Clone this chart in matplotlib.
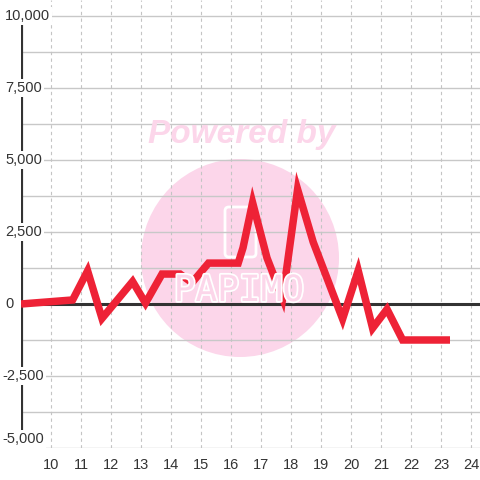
import matplotlib
matplotlib.use('Agg')
import matplotlib.pyplot as plt
import matplotlib.transforms as mtransforms
import matplotlib.patheffects as pe
from matplotlib.patches import Circle, FancyBboxPatch

# series
hours = [9.0, 10.72, 11.22, 11.7, 12.72, 13.15, 13.7, 14.3, 14.7, 15.25, 16.24, 16.4,
         16.72, 17.2, 17.72, 18.22, 18.74, 19.72, 20.24, 20.72, 21.2, 21.72, 23.3]
values = [0, 140, 1150, -500, 780, 30, 1040, 1040, 740, 1420, 1420, 1950,
          3520, 1600, 200, 3980, 2150, -520, 1160, -840, -180, -1250, -1250]

y_ticks = [-5000, -2500, 0, 2500, 5000, 7500, 10000]
y_labels = ['-5,000', '-2,500', '0', '2,500', '5,000', '7,500', '10,000']
x_ticks = list(range(10, 25))

plt.rcParams['font.family'] = ['Liberation Sans', 'DejaVu Sans']

fig = plt.figure(figsize=(4.8, 4.8), dpi=100)
ax = fig.add_axes([21 / 480, 32 / 480, 459 / 480, 448 / 480])
ax.set_xlim(9, 24.3)
ax.set_ylim(-5000, 10555)

for s in ax.spines.values():
    s.set_visible(False)
ax.set_yticks([])
ax.set_xticks(x_ticks)
ax.set_xticklabels([str(t) for t in x_ticks])
ax.tick_params(axis='x', length=0, pad=7, labelsize=10.5, labelcolor='#333333')

# grid
for v in range(-5000, 10001, 1250):
    ax.axhline(v, color='#c8c8c8', lw=1, zorder=1)
for t in x_ticks:
    ax.axvline(t, color='#c4c4c4', lw=0.8, ls=(0, (3, 3)), zorder=1)
ax.axhline(0, color='#333333', lw=2.2, zorder=2)
ax.plot([9, 9], [10000, -5000], color='#333333', lw=3, zorder=2, solid_capstyle='butt')

# watermark
pink = '#fcd6ea'
ax.add_patch(Circle((240 / 480, 1 - 258 / 480), 99 / 480, transform=fig.transFigure,
                    color=pink, zorder=0.5, lw=0))
ax.add_patch(FancyBboxPatch((225 / 480, 1 - 257 / 480), 31 / 480, 50 / 480,
                            boxstyle='round,pad=0,rounding_size=0.008',
                            transform=fig.transFigure, fill=False, ec='white',
                            lw=2, zorder=0.6))
logo = fig.text(239 / 480, 1 - 291 / 480, 'PAPIMO', color=pink, fontsize=26,
                ha='center', va='center', zorder=0.6, family='DejaVu Sans Mono')
logo.set_path_effects([pe.withStroke(linewidth=2.5, foreground='white')])
fig.text(242 / 480, 1 - 134 / 480, 'Powered by', color=pink, fontsize=24,
         fontweight='bold', fontstyle='italic', ha='center', va='center')

ax.plot(hours, values, color='#ee2236', lw=5.4, zorder=3,
        solid_joinstyle='miter', solid_capstyle='butt')

# y labels
trans = mtransforms.blended_transform_factory(fig.transFigure, ax.transData)
for v, lab in zip(y_ticks, y_labels):
    va = 'bottom' if v == -5000 else 'center'
    yy = v + 60 if v == -5000 else v
    x0 = 2 / 480 if lab.startswith('-') else 5 / 480
    ax.text(x0, yy, lab, transform=trans, ha='left', va=va, fontsize=10.5,
            color='#333333', zorder=4, clip_on=False,
            bbox=dict(boxstyle='square,pad=0.15', fc='white', ec='none'))

fig.savefig('out.png', dpi=100, facecolor='white')
